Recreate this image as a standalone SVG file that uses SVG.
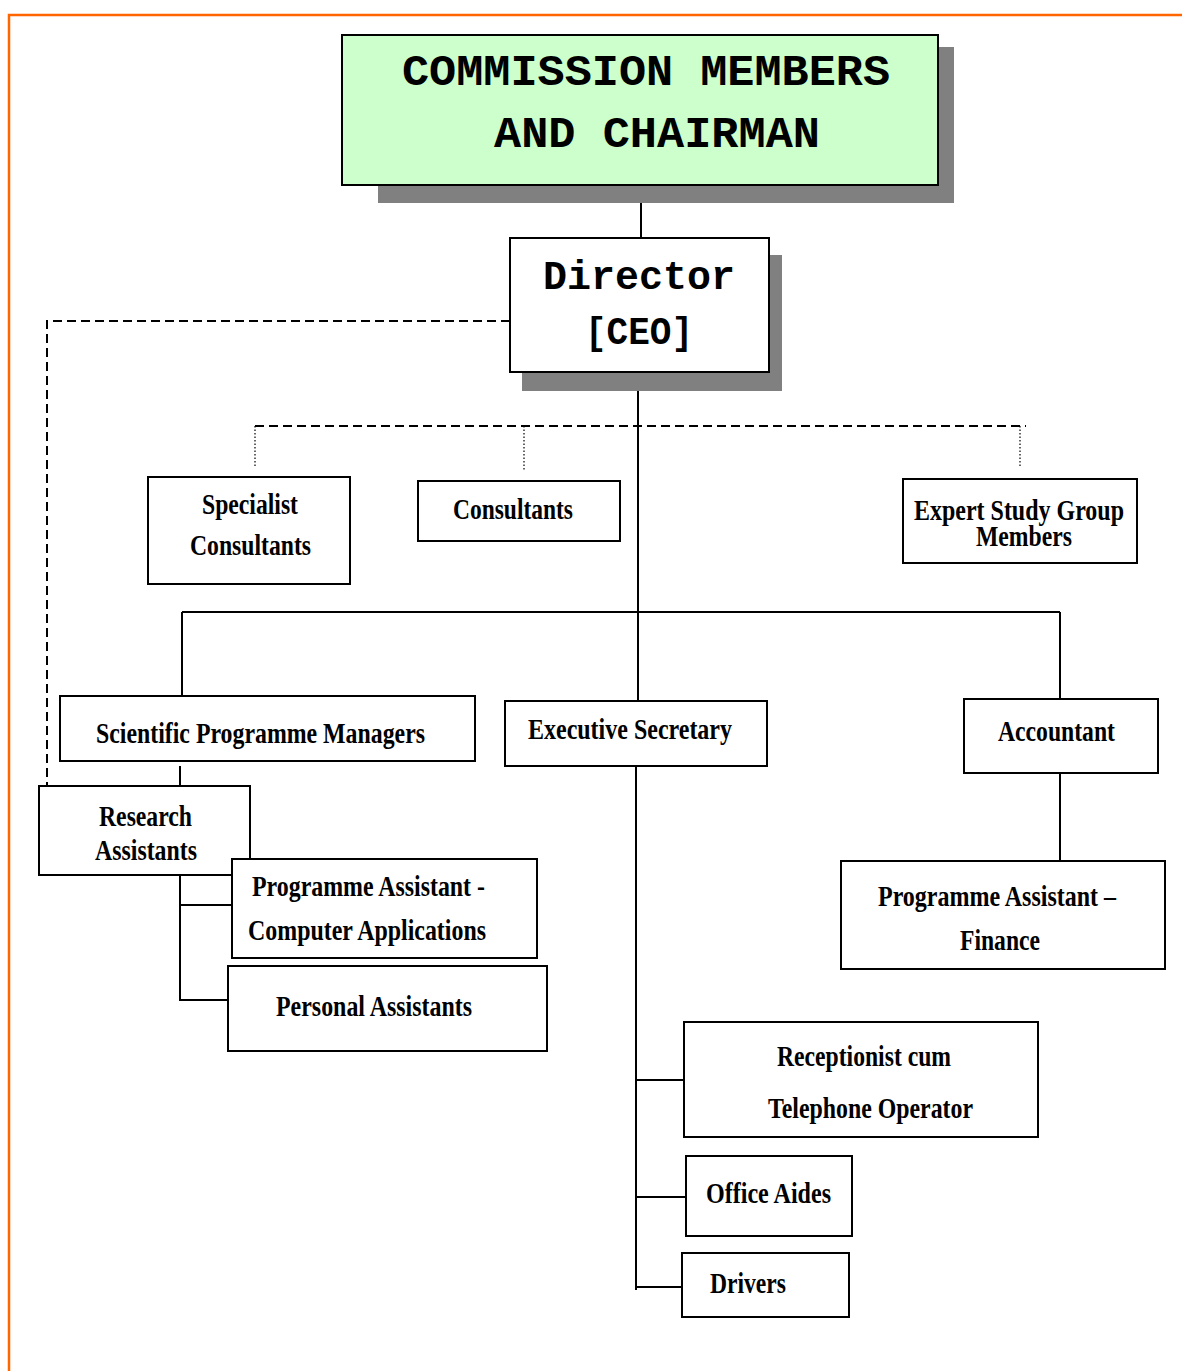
<svg xmlns="http://www.w3.org/2000/svg" width="1182" height="1371" viewBox="0 0 1182 1371">
<style>
.box{fill:#fff;stroke:#000;stroke-width:2}
.shadow{fill:#808080;stroke:none}
.ln{stroke:#000;stroke-width:2;fill:none}
.dash{stroke:#000;stroke-width:2;fill:none;stroke-dasharray:9,5}
.dot{stroke:#000;stroke-width:1.2;fill:none;stroke-dasharray:1.5,2}
.t{font-family:"Liberation Serif","Times New Roman",serif;font-weight:bold;font-size:29px;fill:#000}
.m{font-family:"Liberation Mono","Courier New",monospace;font-weight:bold;fill:#000}
</style>
<rect x="9" y="15" width="1200" height="1400" fill="#fff" stroke="#FF6600" stroke-width="2.5"/>
<g id="connectors">
<line class="ln" x1="641" y1="185" x2="641" y2="238"/>
<line class="ln" x1="638" y1="372" x2="638" y2="701"/>
<polyline class="dash" points="510,321 47,321 47,786"/>
<line class="dash" x1="255" y1="426" x2="1026" y2="426"/>
<line class="dot" x1="255" y1="426" x2="255" y2="468"/>
<line class="dot" x1="524" y1="426" x2="524" y2="471"/>
<line class="dot" x1="1020" y1="426" x2="1020" y2="468"/>
<line class="ln" x1="182" y1="612" x2="1060" y2="612"/>
<line class="ln" x1="182" y1="612" x2="182" y2="696"/>
<line class="ln" x1="1060" y1="612" x2="1060" y2="699"/>
<line class="ln" x1="180" y1="766" x2="180" y2="786"/>
<polyline class="ln" points="180,875 180,1000 228,1000"/>
<line class="ln" x1="180" y1="905" x2="232" y2="905"/>
<line class="ln" x1="1060" y1="773" x2="1060" y2="861"/>
<line class="ln" x1="636" y1="766" x2="636" y2="1290"/>
<line class="ln" x1="636" y1="1080" x2="684" y2="1080"/>
<line class="ln" x1="636" y1="1197" x2="686" y2="1197"/>
<line class="ln" x1="636" y1="1287" x2="682" y2="1287"/>
</g>
<g id="commission">
<rect class="shadow" x="378" y="47" width="576" height="156"/>
<rect x="342" y="35" width="596" height="150" fill="#CCFFCC" stroke="#000" stroke-width="2"/>
<text class="m" x="402" y="85" font-size="45" textLength="488" lengthAdjust="spacingAndGlyphs">COMMISSION MEMBERS</text>
<text class="m" x="494" y="147" font-size="45" textLength="326" lengthAdjust="spacingAndGlyphs">AND CHAIRMAN</text>
</g>
<g id="director">
<rect class="shadow" x="522" y="255" width="260" height="136"/>
<rect class="box" x="510" y="238" width="259" height="134"/>
<text class="m" x="543" y="289" font-size="40" textLength="192" lengthAdjust="spacingAndGlyphs">Director</text>
<text class="m" x="585" y="344" font-size="38" textLength="108" lengthAdjust="spacingAndGlyphs">[CEO]</text>
</g>
<g id="specialist">
<rect class="box" x="148" y="477" width="202" height="107"/>
<text class="t" x="202" y="514" textLength="96" lengthAdjust="spacingAndGlyphs">Specialist</text>
<text class="t" x="190" y="555" textLength="121" lengthAdjust="spacingAndGlyphs">Consultants</text>
</g>
<g id="consultants">
<rect class="box" x="418" y="481" width="202" height="60"/>
<text class="t" x="453" y="519" textLength="120" lengthAdjust="spacingAndGlyphs">Consultants</text>
</g>
<g id="expert">
<rect class="box" x="903" y="479" width="234" height="84"/>
<text class="t" x="914" y="520" font-size="27" textLength="210" lengthAdjust="spacingAndGlyphs">Expert Study Group</text>
<text class="t" x="976" y="546" font-size="27" textLength="96" lengthAdjust="spacingAndGlyphs">Members</text>
</g>
<g id="spm">
<rect class="box" x="60" y="696" width="415" height="65"/>
<text class="t" x="96" y="743" textLength="329" lengthAdjust="spacingAndGlyphs">Scientific Programme Managers</text>
</g>
<g id="execsec">
<rect class="box" x="505" y="701" width="262" height="65"/>
<text class="t" x="528" y="739" textLength="204" lengthAdjust="spacingAndGlyphs">Executive Secretary</text>
</g>
<g id="accountant">
<rect class="box" x="964" y="699" width="194" height="74"/>
<text class="t" x="998" y="741" textLength="117" lengthAdjust="spacingAndGlyphs">Accountant</text>
</g>
<g id="research">
<rect class="box" x="39" y="786" width="211" height="89"/>
<text class="t" x="99" y="826" textLength="93" lengthAdjust="spacingAndGlyphs">Research</text>
<text class="t" x="95" y="860" textLength="102" lengthAdjust="spacingAndGlyphs">Assistants</text>
</g>
<g id="pa-computer">
<rect class="box" x="232" y="859" width="305" height="99"/>
<text class="t" x="252" y="896" textLength="233" lengthAdjust="spacingAndGlyphs">Programme Assistant -</text>
<text class="t" x="248" y="940" textLength="238" lengthAdjust="spacingAndGlyphs">Computer Applications</text>
</g>
<g id="personal">
<rect class="box" x="228" y="966" width="319" height="85"/>
<text class="t" x="276" y="1016" textLength="196" lengthAdjust="spacingAndGlyphs">Personal Assistants</text>
</g>
<g id="pa-finance">
<rect class="box" x="841" y="861" width="324" height="108"/>
<text class="t" x="878" y="906" textLength="238" lengthAdjust="spacingAndGlyphs">Programme Assistant –</text>
<text class="t" x="960" y="950" textLength="80" lengthAdjust="spacingAndGlyphs">Finance</text>
</g>
<g id="receptionist">
<rect class="box" x="684" y="1022" width="354" height="115"/>
<text class="t" x="777" y="1066" textLength="174" lengthAdjust="spacingAndGlyphs">Receptionist cum</text>
<text class="t" x="768" y="1118" textLength="205" lengthAdjust="spacingAndGlyphs">Telephone Operator</text>
</g>
<g id="office-aides">
<rect class="box" x="686" y="1156" width="166" height="80"/>
<text class="t" x="706" y="1203" textLength="125" lengthAdjust="spacingAndGlyphs">Office Aides</text>
</g>
<g id="drivers">
<rect class="box" x="682" y="1253" width="167" height="64"/>
<text class="t" x="710" y="1293" textLength="76" lengthAdjust="spacingAndGlyphs">Drivers</text>
</g>
</svg>
